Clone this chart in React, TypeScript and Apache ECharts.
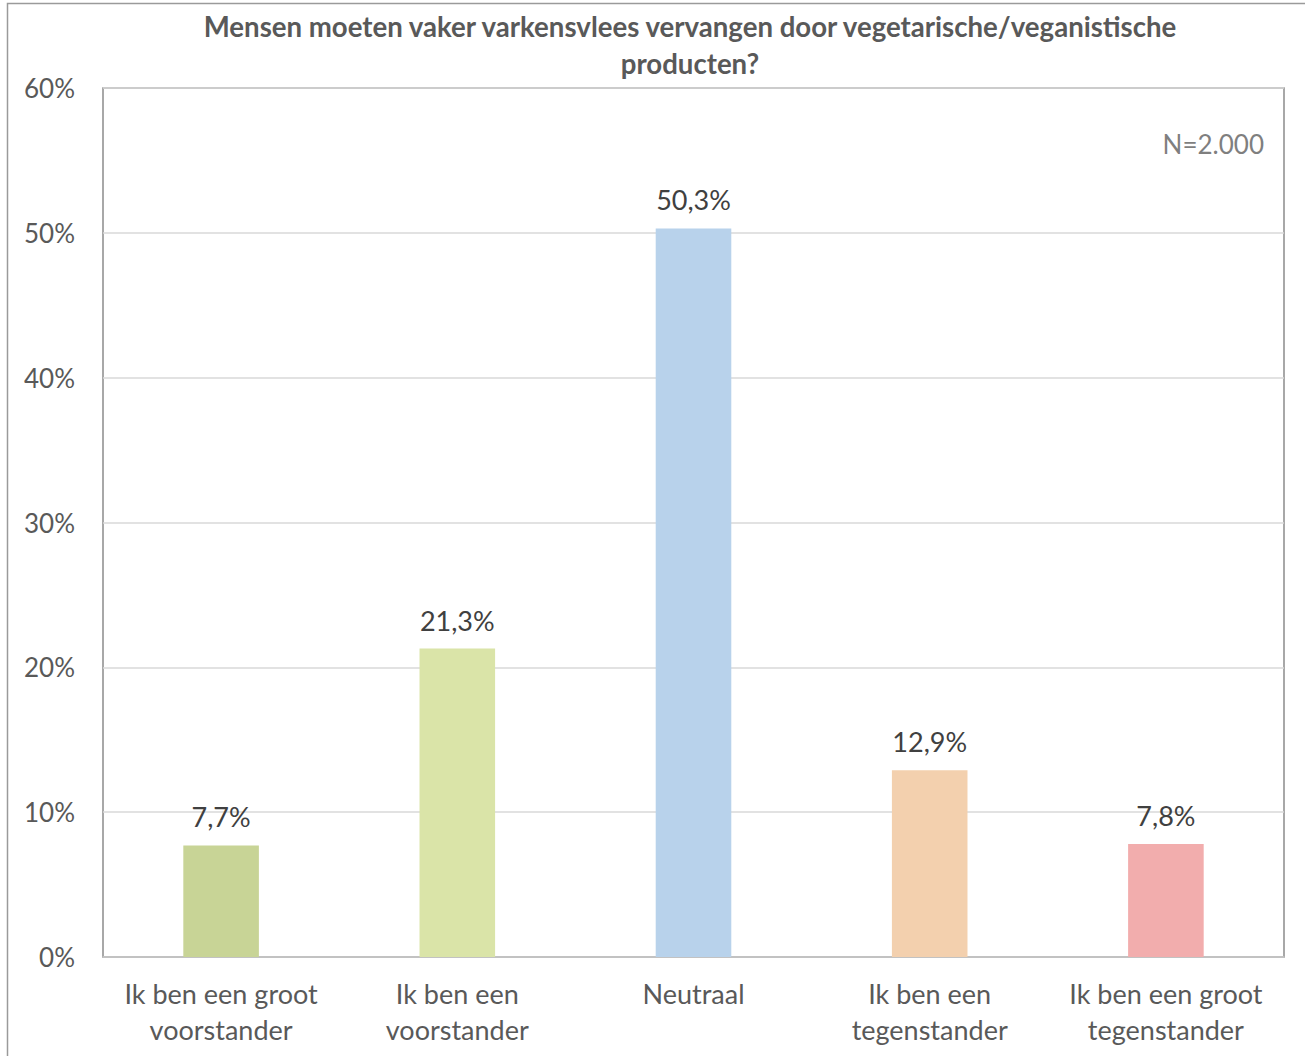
import React, { useEffect, useRef } from "react";
import * as echarts from "echarts";

const categories = [
  "Ik ben een groot\nvoorstander",
  "Ik ben een\nvoorstander",
  "Neutraal",
  "Ik ben een\ntegenstander",
  "Ik ben een groot\ntegenstander",
];
const values = [7.7, 21.3, 50.3, 12.9, 7.8];
const barColors = ["#C8D496", "#DAE4A8", "#B8D2EB", "#F3D0AE", "#F2ADAD"];
const titleText = "Mensen moeten vaker varkensvlees vervangen door vegetarische/veganistische\nproducten?";
const noteText = "N=2.000";

export default function App() {
  const ref = useRef<HTMLDivElement>(null);
  useEffect(() => {
    if (!ref.current) return;
    const chart = echarts.init(ref.current, null, { renderer: "svg" });
    chart.setOption({
      animation: false,
      backgroundColor: "#ffffff",
      textStyle: { fontFamily: "Lato" },
      title: {
        text: titleText,
        left: 690,
        textAlign: "center",
        top: 8,
        padding: 0,
        textStyle: {
          fontFamily: "Lato",
          fontSize: 27.6,
          fontWeight: "bold",
          color: "#595959",
          lineHeight: 37,
        },
      },
      graphic: [
        {
          type: "rect",
          shape: { x: 7.5, y: 3.5, width: 1310, height: 1070 },
          style: { fill: "none", stroke: "#9A9A9A", lineWidth: 1.5 },
          silent: true,
        },
        {
          type: "text",
          right: 41,
          top: 131,
          style: { text: noteText, fontFamily: "Lato", fontSize: 26, fill: "#7F7F7F" },
        },
      ],
      grid: {
        left: 103,
        top: 88,
        width: 1181,
        height: 869,
        show: true,
        borderColor: "#8C8C8C",
        borderWidth: 1.5,
        backgroundColor: "transparent",
      },
      xAxis: {
        type: "category",
        data: categories,
        axisLine: { show: true, lineStyle: { color: "#BFBFBF", width: 1.5 } },
        axisTick: { show: false },
        axisLabel: {
          interval: 0,
          margin: 18,
          fontFamily: "Lato",
          fontSize: 27,
          lineHeight: 36,
          color: "#595959",
        },
      },
      yAxis: {
        type: "value",
        min: 0,
        max: 60,
        interval: 10,
        axisLine: { show: false },
        axisTick: { show: false },
        axisLabel: {
          formatter: "{value}%",
          margin: 28,
          fontFamily: "Lato",
          fontSize: 26,
          color: "#595959",
        },
        splitLine: { lineStyle: { color: "#D9D9D9", width: 1.5 } },
      },
      series: [
        {
          type: "bar",
          data: values.map((v, i) => ({ value: v, itemStyle: { color: barColors[i] } })),
          barWidth: "32%",
          label: {
            show: true,
            position: "top",
            distance: 15,
            formatter: (p: any) => String(p.value.toFixed(1)).replace(".", ",") + "%",
            fontFamily: "Lato",
            fontSize: 27,
            color: "#404040",
          },
        },
      ],
    });
    return () => chart.dispose();
  }, []);
  return (
    <div
      ref={ref}
      style={{ position: "absolute", left: 0, top: 0, width: 1305, height: 1056 }}
    />
  );
}
